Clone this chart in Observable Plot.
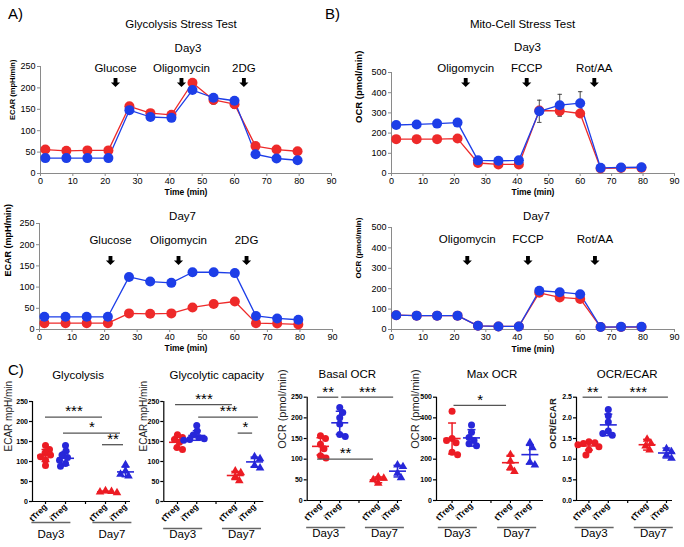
<!DOCTYPE html>
<html>
<head>
<meta charset="utf-8">
<script src="https://cdn.jsdelivr.net/npm/d3@7"></script>
<script src="https://cdn.jsdelivr.net/npm/@observablehq/plot@0.6"></script>
<style>
  html, body { margin: 0; padding: 0; background: #fff; }
  #fig { position: relative; width: 684px; height: 547px; overflow: hidden; background: #fff; font-family: "Liberation Sans", Arial, sans-serif; }
  #fig svg { position: absolute; }
  .letter { position: absolute; font-size: 15px; line-height: 15px; color: #000; }
</style>
</head>
<body>
<div id="fig">
  <div class="letter" style="left:8px;top:6px">A)</div>
  <div class="letter" style="left:325px;top:6px">B)</div>
  <div class="letter" style="left:8px;top:362px">C)</div>
</div>
<script>
// ---------------- DATA ----------------
// A/B: kinetic traces (Seahorse), measurement times in minutes
const timeMin = [1.5, 8, 14.5, 21, 27.5, 34, 40.5, 47, 53.5, 60, 66.5, 73, 79.5];
const timeTicks = [0, 10, 20, 30, 40, 50, 60, 70, 80, 90];
const seriesNames = ["tTreg", "iTreg"];

const ecarDay3_tTreg = [56, 53, 54, 54, 157, 141, 137, 212, 172, 162, 64, 56, 52];
const ecarDay3_tTreg_err = [3, 3, 3, 3, 4, 4, 4, 5, 10, 10, 3, 3, 3];
const ecarDay3_iTreg = [36, 36, 36, 36, 148, 132, 130, 195, 177, 170, 45, 35, 31];
const ecarDay3_iTreg_err = [2, 2, 2, 2, 3, 3, 3, 4, 5, 5, 2, 2, 2];

const ecarDay7_tTreg = [15, 15, 15, 15, 38, 37, 38, 52, 60, 66, 15, 14, 12];
const ecarDay7_tTreg_err = [2, 2, 2, 2, 3, 3, 3, 3, 3, 3, 2, 2, 2];
const ecarDay7_iTreg = [30, 30, 30, 30, 124, 113, 110, 135, 135, 133, 32, 26, 23];
const ecarDay7_iTreg_err = [2, 2, 2, 2, 3, 3, 3, 3, 3, 3, 2, 2, 2];

const ocrDay3_tTreg = [170, 170, 170, 173, 52, 45, 45, 312, 310, 297, 25, 27, 28];
const ocrDay3_tTreg_err = [5, 5, 5, 5, 15, 6, 6, 20, 25, 12, 4, 4, 4];
const ocrDay3_iTreg = [240, 243, 247, 252, 65, 63, 65, 308, 338, 348, 28, 30, 31];
const ocrDay3_iTreg_err = [6, 6, 6, 6, 8, 6, 6, 55, 54, 57, 4, 4, 4];

const ocrDay7_tTreg = [70, 68, 68, 68, 18, 15, 15, 180, 157, 150, 12, 12, 12];
const ocrDay7_tTreg_err = [3, 3, 3, 3, 3, 3, 3, 5, 5, 5, 3, 3, 3];
const ocrDay7_iTreg = [70, 68, 68, 68, 18, 15, 15, 190, 183, 173, 12, 13, 13];
const ocrDay7_iTreg_err = [3, 3, 3, 3, 3, 3, 3, 5, 5, 5, 3, 3, 3];

const glycoInjNames = ["Glucose", "Oligomycin", "2DG"];
const glycoInjDay3 = [23.2, 43.6, 62.9];
const glycoInjDay7 = [21.8, 42.7, 63.6];
const mitoInjNames = ["Oligomycin", "FCCP", "Rot/AA"];
const mitoInjDay3 = [23.6, 43.0, 64.5];
const mitoInjDay7 = [24.1, 43.4, 64.7];

// C: scatter summaries (tTreg Day3, iTreg Day3, tTreg Day7, iTreg Day7)
const catPositions = [1, 2, 3, 4, 5];
const catLabels = ["tTreg", "iTreg", "", "tTreg", "iTreg"];
const dayNames = ["Day3", "Day7"];
const dayLabelPos = [1.27, 4.32];

const glyco_tTreg_d3 = [140, 130, 121, 116, 112, 104, 90];
const glyco_iTreg_d3 = [140, 126, 116, 110, 103, 95, 88];
const glyco_tTreg_d7 = [27, 25, 24, 22];
const glyco_iTreg_d7 = [92, 76, 68, 64];
const glyco_mean = [115, 108, 24, 74];
const glyco_sd = [15, 17, 2, 12];
const glyco_sig = [
  {x1: 1.0, x2: 3.85, y: 211, label: "***"},
  {x1: 1.9, x2: 4.75, y: 171, label: "*"},
  {x1: 3.85, x2: 4.9, y: 142, label: "**"}
];

const capac_tTreg_d3 = [167, 160, 155, 148, 135, 130];
const capac_iTreg_d3 = [190, 176, 166, 160, 157, 155, 153];
const capac_tTreg_d7 = [76, 72, 62, 52];
const capac_iTreg_d7 = [112, 107, 90, 84];
const capac_mean = [148, 165, 65, 99];
const capac_sd = [15, 12, 10, 12];
const capac_sig = [
  {x1: 0.9, x2: 3.85, y: 242, label: "***"},
  {x1: 2.1, x2: 5.2, y: 211, label: "***"},
  {x1: 4.15, x2: 4.9, y: 171, label: "*"}
];

const basal_tTreg_d3 = [157, 150, 136, 125, 108, 103];
const basal_iTreg_d3 = [225, 213, 200, 185, 160, 155];
const basal_tTreg_d7 = [57, 54, 50, 42];
const basal_iTreg_d7 = [86, 82, 66, 55];
const basal_mean = [131, 188, 50, 71];
const basal_sd = [21, 28, 7, 14];
const basal_sig = [
  {x1: 0.85, x2: 1.95, y: 250, label: "**"},
  {x1: 2.1, x2: 4.8, y: 250, label: "***"},
  {x1: 0.85, x2: 3.75, y: 100, label: "**"}
];

const maxocr_tTreg_d3 = [432, 300, 290, 280, 233, 222];
const maxocr_iTreg_d3 = [365, 330, 305, 290, 275, 265];
const maxocr_tTreg_d7 = [222, 190, 160, 140];
const maxocr_iTreg_d7 = [280, 255, 185, 172];
const maxocr_mean = [300, 303, 183, 222];
const maxocr_sd = [75, 40, 35, 45];
const maxocr_sig = [
  {x1: 1.1, x2: 3.8, y: 460, label: "*"}
];

const ratio_tTreg_d3 = [1.42, 1.40, 1.38, 1.35, 1.30, 1.22, 1.10];
const ratio_iTreg_d3 = [2.2, 2.05, 1.9, 1.68, 1.62, 1.58];
const ratio_tTreg_d7 = [1.48, 1.38, 1.32, 1.22];
const ratio_iTreg_d7 = [1.25, 1.18, 1.10, 1.02];
const ratio_mean = [1.32, 1.83, 1.35, 1.15];
const ratio_sd = [0.1, 0.26, 0.13, 0.12];
const ratio_sig = [
  {x1: 0.7, x2: 1.7, y: 2.5, label: "**"},
  {x1: 2.0, x2: 5.1, y: 2.5, label: "***"}
];

// ---------------- STYLE ----------------
const RED = "#ee2a2a", BLUE = "#1d3ee8";
const C_RED = "#ec1c24", C_BLUE = "#2727d9";
const FONT = "'Liberation Sans', Arial, Helvetica, sans-serif";

const arrowDown = {
  draw(ctx, size) {
    const r = Math.sqrt(size / Math.PI), w = 0.42 * r;
    ctx.moveTo(-w, -r); ctx.lineTo(w, -r); ctx.lineTo(w, 0);
    ctx.lineTo(r, 0); ctx.lineTo(0, r); ctx.lineTo(-r, 0);
    ctx.lineTo(-w, 0); ctx.closePath();
  }
};
const hDash = {
  draw(ctx, size) {
    const r = Math.sqrt(size / Math.PI);
    ctx.moveTo(-r, 0); ctx.lineTo(r, 0);
  }
};

const fig = document.getElementById("fig");
function place(svg, left, top) {
  svg.style.position = "absolute";
  svg.style.left = left + "px";
  svg.style.top = top + "px";
  fig.appendChild(svg);
}

// ---------------- KINETIC PANELS ----------------
function timePanel(c) {
  const rows = [];
  c.series.forEach(s => s.values.forEach((v, i) => rows.push({t: timeMin[i], v, e: s.err[i], group: s.name})));
  const inj = c.injNames.map((name, i) => ({name, t: c.injTimes[i]}));
  const yTicks = d3.range(0, c.yMax + 1, c.yStep);
  const axisColor = "#8a8a8a";
  const svg = Plot.plot({
    width: c.width, height: c.height,
    marginLeft: c.mL, marginRight: c.mR, marginTop: c.mT, marginBottom: c.mB,
    style: {background: "transparent", overflow: "visible", fontFamily: FONT, color: "#000"},
    x: {domain: [0, 90]},
    y: {domain: [0, c.yMax]},
    color: {domain: seriesNames, range: [RED, BLUE]},
    marks: [
      Plot.axisX({ticks: timeTicks, tickSize: 3, tickPadding: 1, fontSize: 9, stroke: axisColor, label: null}),
      Plot.axisY({ticks: yTicks, tickSize: 3, tickPadding: 2, fontSize: 9, stroke: axisColor, label: null}),
      Plot.ruleY([0], {stroke: axisColor}),
      Plot.ruleX([0], {stroke: axisColor}),
      Plot.ruleX(rows, {x: "t", y1: d => d.v - d.e, y2: d => d.v + d.e, stroke: "#333", strokeWidth: 0.9}),
      Plot.dot(rows, {x: "t", y: d => d.v + d.e, symbol: hDash, r: 2.2, stroke: "#333", fill: "none", strokeWidth: 0.9}),
      Plot.dot(rows, {x: "t", y: d => d.v - d.e, symbol: hDash, r: 2.2, stroke: "#333", fill: "none", strokeWidth: 0.9}),
      Plot.line(rows, {x: "t", y: "v", z: "group", stroke: "group", strokeWidth: 1.3}),
      Plot.dot(rows, {x: "t", y: "v", fill: "group", r: 5}),
      Plot.dot(inj, {x: "t", frameAnchor: "top", dy: c.arrowDy, symbol: arrowDown, r: 4.6, fill: "#000"}),
      Plot.text(inj, {x: "t", text: "name", frameAnchor: "top", dy: c.drugDy, fontSize: 11.5}),
      Plot.text([c.day], {text: d => d, frameAnchor: "top", dy: c.dayDy, dx: c.dayDx, fontSize: 11.5}),
      c.title ? Plot.text([c.title], {text: d => d, frameAnchor: "top", dy: c.titleDy, dx: c.titleDx, fontSize: 11.5}) : null,
      Plot.text([c.yLabel], {text: d => d, frameAnchor: "left", dx: c.yLabDx, rotate: -90, fontSize: c.yLabFont, fontWeight: "bold"}),
      Plot.text(["Time (min)"], {text: d => d, frameAnchor: "bottom", dy: c.xLabDy, fontSize: 8.5, fontWeight: "bold"})
    ]
  });
  place(svg, c.left, c.top);
}

timePanel({
  left: 0, top: 0, width: 342, height: 200, mL: 40, mR: 11, mT: 66, mB: 27,
  yMax: 250, yStep: 50, yLabel: "ECAR (mpH/min)", yLabFont: 7.5, yLabDx: -28,
  series: [
    {name: "tTreg", values: ecarDay3_tTreg, err: ecarDay3_tTreg_err},
    {name: "iTreg", values: ecarDay3_iTreg, err: ecarDay3_iTreg_err}
  ],
  injNames: glycoInjNames, injTimes: glycoInjDay3,
  day: "Day3", dayDy: -23, dayDx: 2, drugDy: -3, arrowDy: 16,
  title: "Glycolysis Stress Test", titleDy: -47, titleDx: -5, xLabDy: 21
});
timePanel({
  left: 0, top: 200, width: 342, height: 155, mL: 39, mR: 10, mT: 23, mB: 26,
  yMax: 250, yStep: 50, yLabel: "ECAR (mpH/min)", yLabFont: 9, yLabDx: -31.5,
  series: [
    {name: "tTreg", values: ecarDay7_tTreg, err: ecarDay7_tTreg_err},
    {name: "iTreg", values: ecarDay7_iTreg, err: ecarDay7_iTreg_err}
  ],
  injNames: glycoInjNames, injTimes: glycoInjDay7,
  day: "Day7", dayDy: -12, dayDx: -3.5, drugDy: 12, arrowDy: 37,
  title: null, xLabDy: 21.5
});
timePanel({
  left: 342, top: 0, width: 342, height: 200, mL: 49, mR: 10, mT: 72, mB: 27,
  yMax: 500, yStep: 100, yLabel: "OCR (pmol/min)", yLabFont: 9.5, yLabDx: -33,
  series: [
    {name: "tTreg", values: ocrDay3_tTreg, err: ocrDay3_tTreg_err},
    {name: "iTreg", values: ocrDay3_iTreg, err: ocrDay3_iTreg_err}
  ],
  injNames: mitoInjNames, injTimes: mitoInjDay3,
  day: "Day3", dayDy: -30, dayDx: -5.5, drugDy: -9, arrowDy: 10,
  title: "Mito-Cell Stress Test", titleDy: -53, titleDx: -10.5, xLabDy: 21
});
timePanel({
  left: 342, top: 200, width: 342, height: 155, mL: 49, mR: 10, mT: 27, mB: 26,
  yMax: 500, yStep: 100, yLabel: "OCR (pmol/min)", yLabFont: 8, yLabDx: -33,
  series: [
    {name: "tTreg", values: ocrDay7_tTreg, err: ocrDay7_tTreg_err},
    {name: "iTreg", values: ocrDay7_iTreg, err: ocrDay7_iTreg_err}
  ],
  injNames: mitoInjNames, injTimes: mitoInjDay7,
  day: "Day7", dayDy: -16, dayDx: 3.5, drugDy: 7, arrowDy: 33,
  title: null, xLabDy: 22
});

// ---------------- SCATTER PANELS ----------------
function swarmOffsets(values, pxPerUnit, minDist) {
  const order = d3.range(values.length).sort((a, b) => values[b] - values[a]);
  const placed = [], off = [];
  for (const i of order) {
    const py = values[i] * pxPerUnit;
    let chosen = 0;
    for (let s = 0; s < 40; s += 0.5) {
      const cands = s === 0 ? [0] : (placed.length % 2 ? [s, -s] : [-s, s]);
      const ok = cands.find(cx => placed.every(p => Math.hypot(p.x - cx, p.y - py) >= minDist));
      if (ok !== undefined) { chosen = ok; break; }
    }
    off[i] = chosen;
    placed.push({x: chosen, y: py});
  }
  return off;
}

function catPanel(c) {
  const frameW = c.width - c.mL - c.mR, frameH = c.height - c.mT - c.mB;
  const pxX = frameW / (c.xDomain[1] - c.xDomain[0]);
  const pxY = frameH / c.yMax;
  const groups = [
    {pos: catPositions[0], values: c.values[0], color: C_RED, symbol: "circle"},
    {pos: catPositions[1], values: c.values[1], color: C_BLUE, symbol: "circle"},
    {pos: catPositions[3], values: c.values[2], color: C_RED, symbol: "triangle"},
    {pos: catPositions[4], values: c.values[3], color: C_BLUE, symbol: "triangle"}
  ];
  const days = dayNames.map((name, i) => ({name, pos: dayLabelPos[i]}));
  const marks = [
    Plot.axisY({ticks: d3.range(0, c.yMax + c.yStep / 2, c.yStep), tickFormat: c.yFormat, tickSize: 3, tickPadding: 1.5,
      fontSize: 7, fontWeight: "bold", strokeWidth: 1.2, label: null}),
    Plot.axisX({ticks: catPositions, tickFormat: d => catLabels[catPositions.indexOf(d)], tickRotate: -45,
      tickSize: 3, tickPadding: 1, fontSize: 8.5, fontWeight: "bold", strokeWidth: 1.2, label: null}),
    Plot.ruleY([0], {stroke: "#000", strokeWidth: 1.2}),
    Plot.ruleX([c.xDomain[0]], {stroke: "#000", strokeWidth: 1.2})
  ];
  groups.forEach((g, gi) => {
    const off = swarmOffsets(g.values, pxY, 5.6);
    const pts = g.values.map((v, i) => ({x: g.pos + off[i] / pxX, v}));
    const s = [{pos: g.pos, mean: c.mean[gi], sd: c.sd[gi]}];
    marks.push(
      Plot.dot(pts, {x: "x", y: "v", r: g.symbol === "triangle" ? 3.2 : 3.5, symbol: g.symbol, fill: g.color}),
      Plot.ruleX(s, {x: "pos", y1: d => d.mean - d.sd, y2: d => d.mean + d.sd, stroke: g.color, strokeWidth: 1.5}),
      Plot.dot(s, {x: "pos", y: "mean", symbol: hDash, r: 8.5, stroke: g.color, fill: "none", strokeWidth: 1.6}),
      Plot.dot(s, {x: "pos", y: d => d.mean + d.sd, symbol: hDash, r: 4, stroke: g.color, fill: "none", strokeWidth: 1.5}),
      Plot.dot(s, {x: "pos", y: d => d.mean - d.sd, symbol: hDash, r: 4, stroke: g.color, fill: "none", strokeWidth: 1.5})
    );
  });
  marks.push(
    Plot.ruleY(c.sig, {y: "y", x1: "x1", x2: "x2", stroke: "#555", strokeWidth: 1.3}),
    Plot.text(c.sig, {x: d => (d.x1 + d.x2) / 2, y: "y", text: "label", dy: -5.5, fontSize: 15}),
    Plot.dot(days, {x: "pos", frameAnchor: "bottom", dy: c.ulDy, symbol: hDash, r: 19.5, stroke: "#666", fill: "none", strokeWidth: 1.5}),
    Plot.text(days, {x: "pos", text: "name", frameAnchor: "bottom", dy: 36, fontSize: 11.5}),
    Plot.text([c.title], {text: d => d, frameAnchor: "top", dy: c.titleDy, dx: c.titleDx, fontSize: 11.5}),
    Plot.text([c.yLabel], {text: d => d, frameAnchor: "left", dx: c.yLabDx, rotate: -90, fontSize: c.yLabFont,
      fontWeight: c.yLabBold ? "bold" : "normal", fill: "#222"})
  );
  const svg = Plot.plot({
    width: c.width, height: c.height,
    marginLeft: c.mL, marginRight: c.mR, marginTop: c.mT, marginBottom: c.mB,
    style: {background: "transparent", overflow: "visible", fontFamily: FONT, color: "#000"},
    x: {domain: c.xDomain},
    y: {domain: [0, c.yMax]},
    marks
  });
  place(svg, c.left, c.top);
}

catPanel({
  left: 0, top: 360, width: 140, height: 187, mL: 32, mR: 10, mT: 41, mB: 46,
  xDomain: [0.35, 5.25], yMax: 250, yStep: 50, yFormat: d3.format("d"),
  title: "Glycolysis", titleDx: -3.5, titleDy: -31,
  yLabel: "ECAR mpH/min", yLabFont: 10, yLabBold: false, yLabDx: -24, ulDy: 21,
  values: [glyco_tTreg_d3, glyco_iTreg_d3, glyco_tTreg_d7, glyco_iTreg_d7],
  mean: glyco_mean, sd: glyco_sd, sig: glyco_sig
});
catPanel({
  left: 135, top: 360, width: 145, height: 187, mL: 28.3, mR: 16.7, mT: 41, mB: 46,
  xDomain: [0.29, 5.48], yMax: 250, yStep: 50, yFormat: d3.format("d"),
  title: "Glycolytic capacity", titleDx: 3, titleDy: -31,
  yLabel: "ECAR mpH/min", yLabFont: 10, yLabBold: false, yLabDx: -20, ulDy: 27,
  values: [capac_tTreg_d3, capac_iTreg_d3, capac_tTreg_d7, capac_iTreg_d7],
  mean: capac_mean, sd: capac_sd, sig: capac_sig
});
catPanel({
  left: 275, top: 360, width: 135, height: 187, mL: 31.7, mR: 8, mT: 36.7, mB: 47,
  xDomain: [0.31, 5.26], yMax: 250, yStep: 50, yFormat: d3.format("d"),
  title: "Basal OCR", titleDx: -7.6, titleDy: -27.7,
  yLabel: "OCR (pmol/min)", yLabFont: 11, yLabBold: false, yLabDx: -25, ulDy: 27,
  values: [basal_tTreg_d3, basal_iTreg_d3, basal_tTreg_d7, basal_iTreg_d7],
  mean: basal_mean, sd: basal_sd, sig: basal_sig
});
catPanel({
  left: 410, top: 360, width: 135, height: 187, mL: 26, mR: 2, mT: 36.7, mB: 47,
  xDomain: [0.2, 5.7], yMax: 500, yStep: 100, yFormat: d3.format("d"),
  title: "Max OCR", titleDx: 2, titleDy: -27.7,
  yLabel: "OCR (pmol/min)", yLabFont: 11, yLabBold: false, yLabDx: -21, ulDy: 27,
  values: [maxocr_tTreg_d3, maxocr_iTreg_d3, maxocr_tTreg_d7, maxocr_iTreg_d7],
  mean: maxocr_mean, sd: maxocr_sd, sig: maxocr_sig
});
catPanel({
  left: 545, top: 360, width: 139, height: 187, mL: 31, mR: 12, mT: 36.7, mB: 47,
  xDomain: [0.36, 5.31], yMax: 2.5, yStep: 0.5, yFormat: d3.format(".1f"),
  title: "OCR/ECAR", titleDx: 2.7, titleDy: -27.7,
  yLabel: "OCR/ECAR", yLabFont: 9.5, yLabBold: true, yLabDx: -24, ulDy: 27,
  values: [ratio_tTreg_d3, ratio_iTreg_d3, ratio_tTreg_d7, ratio_iTreg_d7],
  mean: ratio_mean, sd: ratio_sd, sig: ratio_sig
});
</script>
</body>
</html>
